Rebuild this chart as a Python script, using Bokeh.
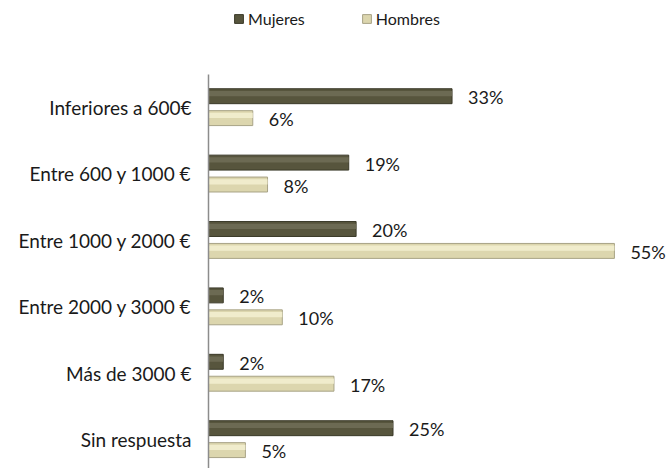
from bokeh.plotting import figure
from bokeh.layouts import column
from bokeh.models import Range1d, FixedTicker, ColumnDataSource, Legend, LegendItem, LabelSet
from bokeh.core.properties import value
from bokeh.embed import file_html
from bokeh.resources import INLINE

categories = ["Inferiores a 600€", "Entre 600 y 1000 €", "Entre 1000 y 2000 €",
              "Entre 2000 y 3000 €", "Más de 3000 €", "Sin respuesta"]
mujeres = [33, 19, 20, 2, 2, 25]
hombres = [6, 8, 55, 10, 17, 5]
series_names = ["Mujeres", "Hombres"]
colors = ["#57553d", "#dcd6ae"]
highlight_colors = ["#6f6d55", "#f2eecf"]
edge_colors = ["#3a3928", "#a8a386"]

FONT = "Lato"
idx = list(range(len(categories)))

# ---- legend strip on top ----
top = figure(width=670, height=74, output_backend="svg", toolbar_location=None,
             x_range=Range1d(0, 1), y_range=Range1d(0, 1),
             min_border_left=0, min_border_right=0, min_border_top=0, min_border_bottom=0)
top.xaxis.visible = False
top.yaxis.visible = False
top.xgrid.visible = False
top.ygrid.visible = False
top.outline_line_color = None

leg_renderers = []
for col, ecol in zip(colors, edge_colors):
    # proxy renderer lying outside the visible range, used only for the legend swatch
    r = top.hbar(y=[-5], right=[-4], left=-5, height=0.2, fill_color=col, line_color=ecol)
    leg_renderers.append(r)

legend = Legend(items=[LegendItem(label=n, renderers=[r]) for n, r in zip(series_names, leg_renderers)],
                orientation="horizontal", location=(25, 46),
                label_text_font=FONT, label_text_font_size="16px", label_text_color="#1a1a1a",
                glyph_width=11, glyph_height=11, label_standoff=4, spacing=56,
                padding=0, margin=0, border_line_color=None, background_fill_alpha=0)
top.add_layout(legend, "center")

# ---- main chart ----
p = figure(width=670, height=394, output_backend="svg", toolbar_location=None,
           x_range=Range1d(0, 62.6), y_range=Range1d(5.437, -0.497),
           min_border_left=208, min_border_right=0, min_border_top=0, min_border_bottom=0)

p.xaxis.visible = False
p.xgrid.visible = False
p.ygrid.visible = False
p.outline_line_color = None

p.yaxis.ticker = FixedTicker(ticks=idx)
p.yaxis.major_label_overrides = {i: c for i, c in enumerate(categories)}
p.yaxis.major_tick_line_color = None
p.yaxis.minor_tick_line_color = None
p.yaxis.axis_line_color = "#8c8c8c"
p.yaxis.axis_line_width = 1.5
p.yaxis.major_label_text_font = FONT
p.yaxis.major_label_text_font_size = "19px"
p.yaxis.major_label_text_color = "#1a1a1a"
p.yaxis.major_label_standoff = 11

offsets = [-0.17, 0.16]
bar_h = 0.225
for vals, off, col, hcol, ecol in zip([mujeres, hombres], offsets, colors, highlight_colors, edge_colors):
    src = ColumnDataSource(dict(y=[i + off for i in idx], right=vals,
                                yh=[i + off - bar_h * 0.18 for i in idx],
                                lab=[f"{v}%" for v in vals]))
    p.hbar(y="y", right="right", left=0, height=bar_h, source=src,
           fill_color=col, line_color=ecol, line_width=1)
    p.hbar(y="yh", right="right", left=0, height=bar_h * 0.35, source=src,
           fill_color=hcol, line_color=None, fill_alpha=0.9)
    p.add_layout(LabelSet(x="right", y="y", text="lab", source=src, x_offset=16, y_offset=-1,
                          text_font=value(FONT), text_font_size="18px", text_color="#1a1a1a",
                          text_baseline="middle"))

layout = column(top, p, spacing=0)
open("out.html", "w").write(file_html(layout, INLINE))
